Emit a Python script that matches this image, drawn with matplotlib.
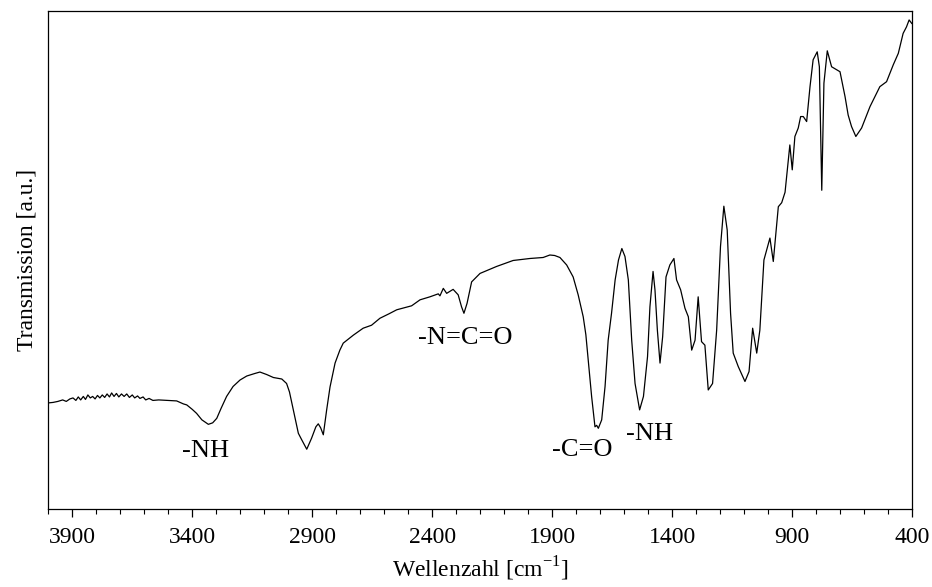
import numpy as np
import matplotlib
matplotlib.use("Agg")
import matplotlib.pyplot as plt
from matplotlib.ticker import MultipleLocator, FixedLocator

plt.rcParams['font.family'] = ['Liberation Serif', 'DejaVu Serif']
plt.rcParams['mathtext.fontset'] = 'custom'
plt.rcParams['mathtext.rm'] = 'Liberation Serif'

# IR-Spektrum (Transmission in willkuerlichen Einheiten)
wellenzahl = [4000, 3980, 3960, 3940, 3925, 3910, 3897, 3885, 3875, 3865, 3854, 3845,
              3835, 3825, 3815, 3805, 3795, 3785, 3775, 3765, 3755, 3745, 3736, 3726,
              3716, 3706, 3695, 3684, 3673, 3662, 3650, 3640, 3628, 3618, 3605, 3594,
              3580, 3564, 3540, 3500, 3465, 3437, 3423, 3400, 3382, 3360, 3333, 3315,
              3298, 3280, 3257, 3230, 3201, 3173, 3140, 3118, 3090, 3062, 3027, 3007,
              2995, 2979, 2958, 2944, 2923, 2903, 2885, 2875, 2865, 2854, 2840, 2826,
              2805, 2785, 2771, 2729, 2688, 2653, 2618, 2580, 2548, 2486, 2451, 2410,
              2375, 2368, 2354, 2340, 2313, 2292, 2278, 2268, 2255, 2236, 2201, 2132,
              2063, 1993, 1938, 1910, 1890, 1868, 1840, 1813, 1792, 1771, 1760, 1750,
              1736, 1722, 1715, 1708, 1694, 1680, 1667, 1653, 1638, 1624, 1610, 1597,
              1583, 1569, 1555, 1536, 1520, 1503, 1493, 1480, 1472, 1462, 1451, 1440,
              1426, 1410, 1393, 1382, 1365, 1347, 1333, 1319, 1305, 1292, 1278, 1264,
              1250, 1232, 1215, 1199, 1185, 1171, 1157, 1146, 1125, 1097, 1080, 1065,
              1048, 1035, 1018, 993, 979, 958, 944, 930, 910, 900, 889, 875,
              865, 854, 840, 826, 813, 796, 787, 777, 768, 754, 736, 701,
              680, 667, 653, 635, 611, 576, 535, 507, 479, 458, 438, 424,
              413, 402]
transmission = [21.3, 21.4, 21.6, 21.9, 21.6, 22.1, 22.3, 21.8, 22.5, 21.9, 22.6, 22.0,
                22.9, 22.3, 22.6, 22.1, 22.8, 22.3, 22.9, 22.4, 23.1, 22.5, 23.3, 22.6,
                23.2, 22.5, 23.1, 22.6, 23.1, 22.4, 22.9, 22.3, 22.7, 22.2, 22.5, 21.9,
                22.2, 21.8, 21.9, 21.8, 21.7, 21.1, 20.9, 20.0, 19.2, 17.9, 17.0, 17.3,
                18.2, 20.2, 22.6, 24.6, 25.9, 26.7, 27.2, 27.5, 27.0, 26.4, 26.1, 25.2,
                23.5, 19.9, 15.2, 13.9, 12.0, 14.2, 16.5, 17.1, 16.3, 14.9, 19.9, 24.5,
                29.3, 31.9, 33.3, 34.9, 36.3, 36.9, 38.3, 39.2, 40.0, 40.8, 42.0, 42.6,
                43.2, 42.8, 44.3, 43.3, 44.1, 43.0, 40.6, 39.3, 41.3, 45.6, 47.3, 48.7,
                49.9, 50.3, 50.5, 51.0, 50.9, 50.5, 49.0, 46.6, 43.0, 38.6, 35.0, 29.9,
                22.6, 16.5, 16.8, 16.2, 17.9, 24.6, 33.9, 39.3, 46.0, 50.0, 52.3, 50.7,
                46.0, 33.9, 25.2, 19.9, 22.6, 30.6, 40.6, 47.7, 44.0, 35.9, 29.3, 34.6,
                46.6, 49.0, 50.3, 46.0, 44.0, 40.3, 38.6, 31.9, 33.9, 42.6, 33.6, 32.9,
                23.9, 25.2, 35.9, 52.7, 60.8, 56.0, 39.3, 31.3, 28.6, 25.6, 27.6, 36.3,
                31.3, 35.9, 50.0, 54.4, 49.7, 60.7, 61.5, 63.6, 73.1, 68.1, 74.8, 76.5,
                78.8, 78.8, 77.8, 84.8, 90.2, 91.8, 88.8, 64.0, 85.5, 92.0, 88.8, 87.8,
                82.8, 79.1, 76.8, 74.8, 76.5, 80.8, 84.8, 85.8, 89.2, 91.5, 95.5, 96.8,
                98.2, 97.5]

# Beschriftungen der Banden
banden_text = ['-NH', '-N=C=O', '-C=O', '-NH']
banden_x = [3343, 2264, 1776, 1493]
banden_y = [11.6, 34.3, 11.8, 15.1]

fig = plt.figure(figsize=(9.32, 5.87), dpi=100)
ax = fig.add_axes([0.0518, 0.1329, 0.9270, 0.8484])

ax.plot(wellenzahl, transmission, color='black', linewidth=0.9)

for t, bx, by in zip(banden_text, banden_x, banden_y):
    ax.text(bx, by, t, ha='center', va='center', fontsize=19)

ax.set_xlim(4000, 400)
ax.set_ylim(0, 100)

ax.xaxis.set_major_locator(FixedLocator([3900, 3400, 2900, 2400, 1900, 1400, 900, 400]))
ax.xaxis.set_minor_locator(MultipleLocator(100))
ax.tick_params(axis='x', which='major', direction='out', length=6, width=0.9,
               labelsize=17, pad=7)
ax.tick_params(axis='x', which='minor', direction='out', length=3.5, width=0.8)
ax.set_yticks([])

for s in ax.spines.values():
    s.set_linewidth(0.9)

ax.set_xlabel(r'Wellenzahl [cm$^{\mathregular{-1}}$]', fontsize=17, labelpad=5)
ax.set_ylabel('Transmission [a.u.]', fontsize=17, labelpad=8)

fig.savefig('out.png', dpi=100)
